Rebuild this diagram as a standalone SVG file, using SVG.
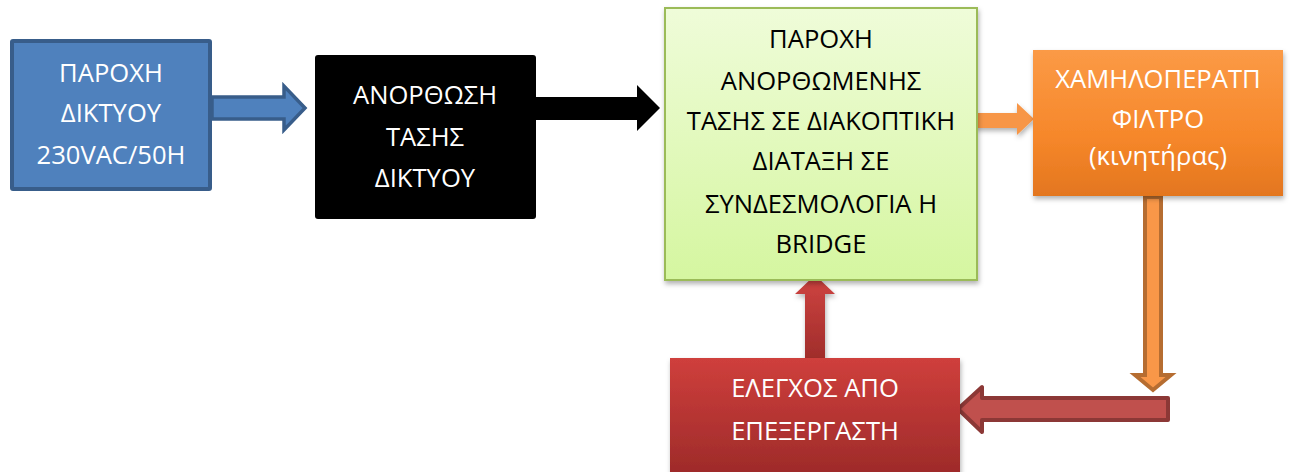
<svg xmlns="http://www.w3.org/2000/svg" width="1291" height="472" viewBox="0 0 1291 472">
<style>
text{font-family:"Open Sans","Noto Sans","DejaVu Sans",sans-serif;font-size:25.6px;text-anchor:middle}
.w{fill:#ffffff}
.k{fill:#000000}
</style>
<defs>
<linearGradient id="gGreen" x1="0" y1="0" x2="0" y2="1"><stop offset="0" stop-color="#effcd9"/><stop offset="1" stop-color="#d5f6a0"/></linearGradient>
<linearGradient id="gOrange" x1="0" y1="0" x2="0" y2="1"><stop offset="0" stop-color="#fb9a46"/><stop offset="0.6" stop-color="#f6872a"/><stop offset="1" stop-color="#e3761f"/></linearGradient>
<linearGradient id="gRed" x1="0" y1="0" x2="0" y2="1"><stop offset="0" stop-color="#cf3f3c"/><stop offset="1" stop-color="#9c2a29"/></linearGradient>
<linearGradient id="gRedArrow" x1="0" y1="0" x2="0" y2="1"><stop offset="0" stop-color="#d04441"/><stop offset="1" stop-color="#a02d2b"/></linearGradient>
<filter id="sh" x="-10%" y="-10%" width="125%" height="130%"><feDropShadow dx="1" dy="3" stdDeviation="2.5" flood-color="#000" flood-opacity="0.3"/></filter>
</defs>

<g id="connectors">
<path d="M212,97 H284 V86 L305,108 L284,130 V119 H212 Z" fill="#4f81bd" stroke="#385d8a" stroke-width="3.5" stroke-linejoin="miter"/>
<path d="M536,97 H637 V85 L660,108 L637,131 V120 H536 Z" fill="#000000"/>
<path d="M975,113 H1017 V103 L1034,119 L1017,135 V128 H975 Z" fill="#f79646" filter="url(#sh)"/>
<path d="M1145,197 H1161 V375 H1171 L1153,390 L1135,375 H1145 Z" fill="#f99748" stroke="#b66d31" stroke-width="4" stroke-linejoin="miter"/>
<path d="M805,358 V294 H795 L815,275 L835,294 H825 V358 Z" fill="url(#gRedArrow)" filter="url(#sh)"/>
<path d="M1168,398 V420 H982 V432 L958,409 L982,387 V398 Z" fill="#c0504d" stroke="#8c3836" stroke-width="4" stroke-linejoin="round"/>
</g>

<g id="node-supply">
<rect x="12" y="41" width="198" height="148" fill="#4f81bd" stroke="#385d8a" stroke-width="4" rx="1"/>
<text class="w" x="111" y="82">ΠΑΡΟΧΗ</text>
<text class="w" x="111" y="122">ΔΙΚΤΥΟΥ</text>
<text class="w" x="111" y="164">230VAC/50H</text>
</g>

<g id="node-rectifier">
<rect x="315" y="55" width="221" height="164" fill="#000000" rx="3"/>
<text class="w" x="425" y="104">ΑΝΟΡΘΩΣΗ</text>
<text class="w" x="425" y="146">ΤΑΣΗΣ</text>
<text class="w" x="425" y="187">ΔΙΚΤΥΟΥ</text>
</g>

<g id="node-switching">
<rect x="665" y="8" width="312" height="272" fill="url(#gGreen)" stroke="#9bbb59" stroke-width="2" filter="url(#sh)"/>
<text class="k" x="821" y="48">ΠΑΡΟΧΗ</text>
<text class="k" x="821" y="90">ΑΝΟΡΘΩΜΕΝΗΣ</text>
<text class="k" x="821" y="130">ΤΑΣΗΣ ΣΕ ΔΙΑΚΟΠΤΙΚΗ</text>
<text class="k" x="821" y="170">ΔΙΑΤΑΞΗ ΣΕ</text>
<text class="k" x="821" y="213">ΣΥΝΔΕΣΜΟΛΟΓΙΑ Η</text>
<text class="k" x="821" y="253">BRIDGE</text>
</g>

<g id="node-filter">
<rect x="1033" y="50" width="250" height="146" fill="url(#gOrange)" filter="url(#sh)"/>
<text class="w" x="1158" y="88">ΧΑΜΗΛΟΠΕΡΑΤΠ</text>
<text class="w" x="1158" y="128">ΦΙΛΤΡΟ</text>
<text class="w" x="1158" y="165">(κινητήρας)</text>
</g>

<g id="node-control">
<rect x="670" y="358" width="290" height="120" fill="url(#gRed)" filter="url(#sh)"/>
<text class="w" x="815" y="397">ΕΛΕΓΧΟΣ ΑΠΟ</text>
<text class="w" x="815" y="440">ΕΠΕΞΕΡΓΑΣΤΗ</text>
</g>
</svg>
